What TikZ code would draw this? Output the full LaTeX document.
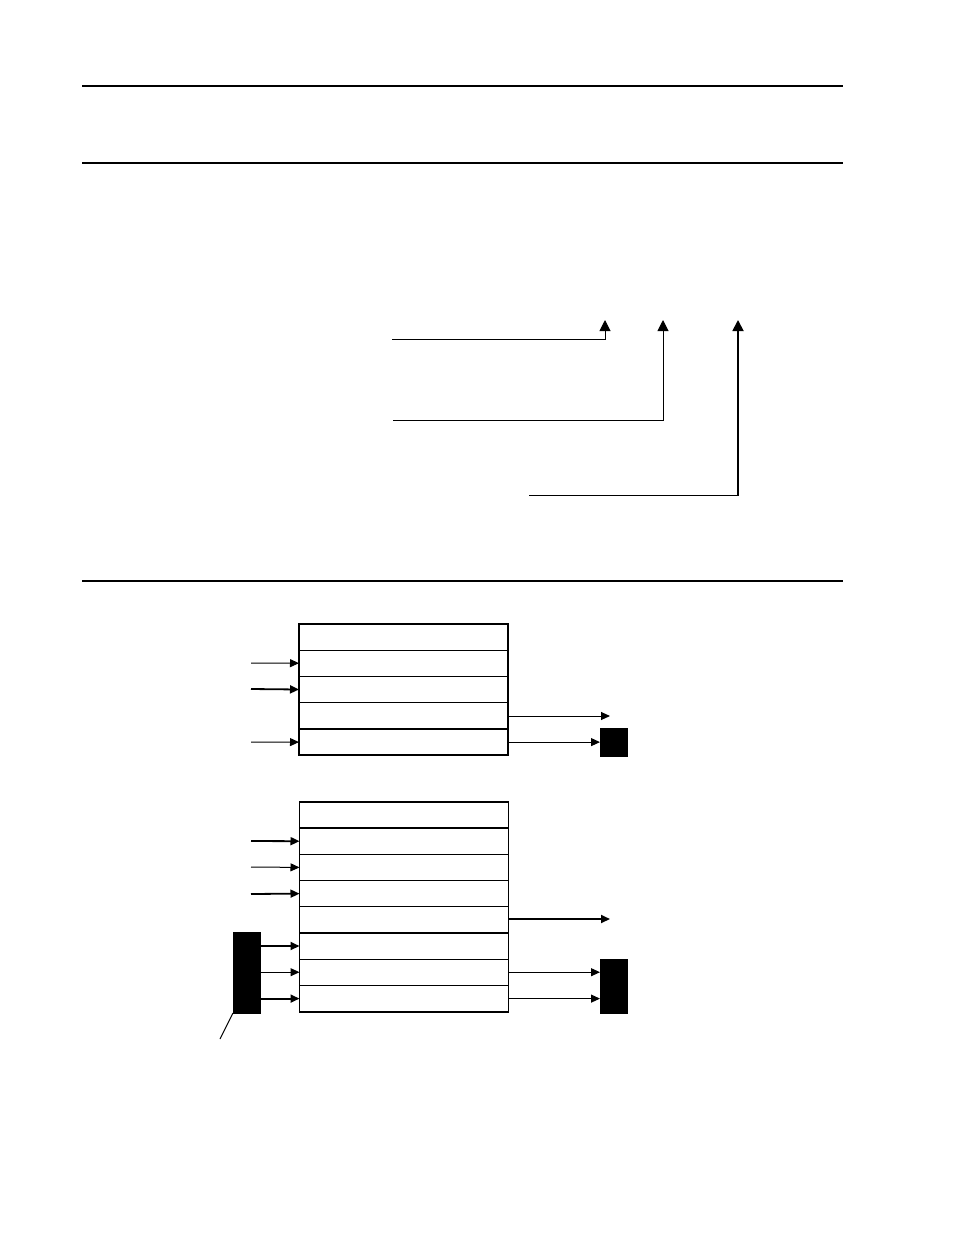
\documentclass[tikz,border=0pt]{standalone}
\usetikzlibrary{arrows.meta}
\begin{document}
\begin{tikzpicture}[x=1pt,y=-1pt,
  rule/.style={line width=1.2pt},
  uparrow/.style={line width=1pt,-{Triangle[length=11pt,width=11pt]}},
  rowbox/.style={draw,line width=1pt,minimum width=209pt,minimum height=26.3pt,inner sep=0pt,outer sep=0pt},
  inarrow/.style={line width=1pt,-{Triangle[length=9pt,width=8pt]}},
  thickin/.style={line width=1.8pt,-{Triangle[length=9pt,width=8pt]}},
  blk/.style={fill=black,draw=black,inner sep=0pt,outer sep=0pt}]
\useasboundingbox (0,0) rectangle (954,1235);
% header rules
\draw[line width=2.6pt] (82,86) -- (843,86);
\draw[rule] (82,163) -- (843,163);
\draw[rule] (82,581) -- (843,581);
% pointer arrows
\coordinate (s1) at (392,339);
\coordinate (t1) at (605,320);
\coordinate (s2) at (393,420);
\coordinate (t2) at (663,320);
\coordinate (s3) at (529,495.5);
\coordinate (t3) at (738,320);
\draw[uparrow] (s1) -| (t1);
\draw[uparrow] (s2) -| (t2);
\draw[uparrow,line width=1.8pt] (s3) -| (t3);
% upper table
\foreach \i/\y in {1/637,2/663.2,3/689.5,4/715.8,5/742.1}{
  \node[rowbox] (u\i) at (403.5,\y) {};
}
\draw[line width=1.6pt] (u1.north west) rectangle (u5.south east);
\draw[line width=1.6pt] (u2.south west) -- (u2.south east);
\draw[line width=1.6pt] (u3.south west) -- (u3.south east);
\draw[line width=1.6pt] (u4.south west) -- (u4.south east);
\coordinate (ui2) at (251,663);
\coordinate (ui3) at (251,689);
\coordinate (ui5) at (251,742);
\draw[inarrow] (ui2) -- (u2.west);
\draw[thickin] (ui3) -- (u3.west);
\draw[inarrow] (ui5) -- (u5.west);
\coordinate (uo4) at (610,716);
\draw[inarrow] (u4.east |- uo4) -- (uo4);
\node[blk,minimum width=27pt,minimum height=28pt,anchor=north west] (ub) at (600,728.5) {};
\draw[inarrow] (u5.east) -- (ub.west |- u5.east);
% lower table
\foreach \i/\y in {1/815,2/841.2,3/867.4,4/893.6,5/919.8,6/946,7/972.2,8/998.6}{
  \node[rowbox] (l\i) at (404,\y) {};
}
\draw[line width=1.6pt] (l1.north west) rectangle (l8.south east);
\draw[line width=1.6pt] (l1.south west) -- (l1.south east);
\draw[line width=1.6pt] (l5.south west) -- (l5.south east);
\coordinate (li2) at (251,841);
\coordinate (li3) at (251,867);
\coordinate (li4) at (251,894);
\draw[thickin] (li2) -- (l2.west);
\draw[inarrow] (li3) -- (l3.west);
\draw[thickin] (li4) -- (l4.west);
\node[blk,minimum width=27pt,minimum height=81pt,anchor=north west] (lb) at (233,932) {};
\draw[thickin] (lb.east |- l6.west) -- (l6.west);
\draw[inarrow] (lb.east |- l7.west) -- (l7.west);
\draw[thickin] (lb.east |- l8.west) -- (l8.west);
\coordinate (lq) at (220,1039);
\draw[line width=1pt] (lb.south west) -- (lq);
\coordinate (lo5) at (610,919);
\draw[thickin] (l5.east |- lo5) -- (lo5);
\node[blk,minimum width=27pt,minimum height=54pt,anchor=north west] (rb) at (600,959) {};
\draw[inarrow] (l7.east) -- (rb.west |- l7.east);
\draw[inarrow] (l8.east) -- (rb.west |- l8.east);
\end{tikzpicture}
\end{document}
